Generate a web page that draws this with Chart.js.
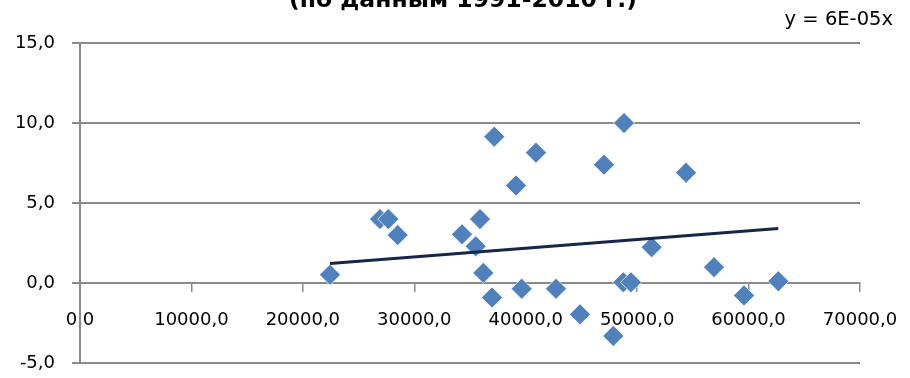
<!DOCTYPE html>
<html lang="ru">
<head>
    <meta charset="UTF-8">
    <title>Диаграмма рассеяния</title>
    <script src="https://cdn.jsdelivr.net/npm/chart.js"></script>
    <style>
        body {
            margin: 0;
            background: #ffffff;
        }
        .wrap {
            width: 910px;
            height: 378px;
            overflow: hidden;
        }
        canvas {
            display: block;
        }
    </style>
</head>
<body>
    <div class="wrap">
        <canvas id="scatterChart" width="910" height="391"></canvas>
    </div>

    <script>
        // данные
        const xValues = [22436, 26923, 27667, 28511, 34282, 35897, 35513, 36192, 36974, 37179,
                         39128, 39640, 40923, 42718, 44872, 47025, 47859, 48821, 48758, 49449,
                         51308, 54385, 56897, 59590, 62667];
        const yValues = [0.52, 4.0, 4.0, 3.0, 3.05, 4.0, 2.3, 0.64, -0.9, 9.15,
                         6.1, -0.35, 8.15, -0.35, -1.95, 7.4, -3.3, 10.0, 0.05, 0.05,
                         2.25, 6.9, 1.0, -0.77, 0.12];
        const trendSlope = 5.45e-5;
        const trendLabel = 'y = 6E-05x';
        const titleText = '(по данным 1991-2010 г.)';
        const yTicks = [-5, 0, 5, 10, 15];
        const xTicks = [0, 10000, 20000, 30000, 40000, 50000, 60000, 70000];

        const points = xValues.map((x, i) => ({ x: x, y: yValues[i] }));
        const xMin = Math.min(...xValues);
        const xMax = Math.max(...xValues);
        const trend = [
            { x: xMin, y: trendSlope * xMin },
            { x: xMax, y: trendSlope * xMax }
        ];

        const fmt = v => v.toFixed(1).replace('.', ',');
        const gridColor = '#8a8a8a';

        // заголовок и подпись линии тренда
        const textPlugin = {
            id: 'texts',
            afterDraw(chart) {
                const ctx = chart.ctx;
                ctx.save();
                ctx.fillStyle = '#000000';
                ctx.font = 'bold 23.5px "DejaVu Sans"';
                ctx.textAlign = 'center';
                ctx.textBaseline = 'alphabetic';
                ctx.fillText(titleText, 463, 7);
                ctx.font = '19.5px "DejaVu Sans"';
                ctx.textAlign = 'right';
                ctx.textBaseline = 'middle';
                ctx.fillText(trendLabel, 893, 20);
                ctx.restore();
            }
        };

        const ctx = document.getElementById('scatterChart').getContext('2d');
        new Chart(ctx, {
            type: 'scatter',
            data: {
                datasets: [{
                    label: 'Тренд',
                    data: trend,
                    showLine: true,
                    borderColor: '#16264a',
                    borderWidth: 3,
                    pointRadius: 0,
                    pointHoverRadius: 0,
                    fill: false,
                    order: 0
                }, {
                    label: 'Данные',
                    data: points,
                    pointStyle: 'rectRot',
                    pointRadius: 10.5,
                    pointHoverRadius: 10.5,
                    backgroundColor: '#4f81bd',
                    borderColor: 'rgba(255,255,255,0.7)',
                    borderWidth: 1,
                    order: 1
                }]
            },
            options: {
                responsive: false,
                animation: false,
                devicePixelRatio: 1,
                layout: {
                    autoPadding: false,
                    padding: { top: 43, right: 50, bottom: 17, left: 0 }
                },
                plugins: {
                    legend: { display: false },
                    tooltip: { enabled: false }
                },
                scales: {
                    x: {
                        type: 'linear',
                        position: { y: 0 },
                        min: 0,
                        max: 70000,
                        afterBuildTicks: scale => {
                            scale.ticks = xTicks.map(v => ({ value: v }));
                        },
                        afterFit: scale => {
                            scale.paddingLeft = 0;
                            scale.paddingRight = 0;
                        },
                        ticks: {
                            callback: v => fmt(v),
                            color: '#000000',
                            font: { family: '"DejaVu Sans"', size: 18 },
                            padding: 18,
                            maxRotation: 0,
                            autoSkip: false
                        },
                        grid: {
                            drawOnChartArea: false,
                            drawTicks: true,
                            tickLength: 8,
                            color: gridColor,
                            lineWidth: 1.5
                        },
                        border: {
                            color: gridColor,
                            width: 2
                        }
                    },
                    y: {
                        min: -5,
                        max: 15,
                        afterBuildTicks: scale => {
                            scale.ticks = yTicks.map(v => ({ value: v }));
                        },
                        afterFit: scale => {
                            scale.width = 80;
                        },
                        ticks: {
                            callback: v => fmt(v),
                            color: '#000000',
                            font: { family: '"DejaVu Sans"', size: 18 },
                            padding: 17
                        },
                        grid: {
                            color: gridColor,
                            lineWidth: 2,
                            tickLength: 8
                        },
                        border: {
                            color: gridColor,
                            width: 2
                        }
                    }
                }
            },
            plugins: [textPlugin]
        });
    </script>
</body>
</html>
